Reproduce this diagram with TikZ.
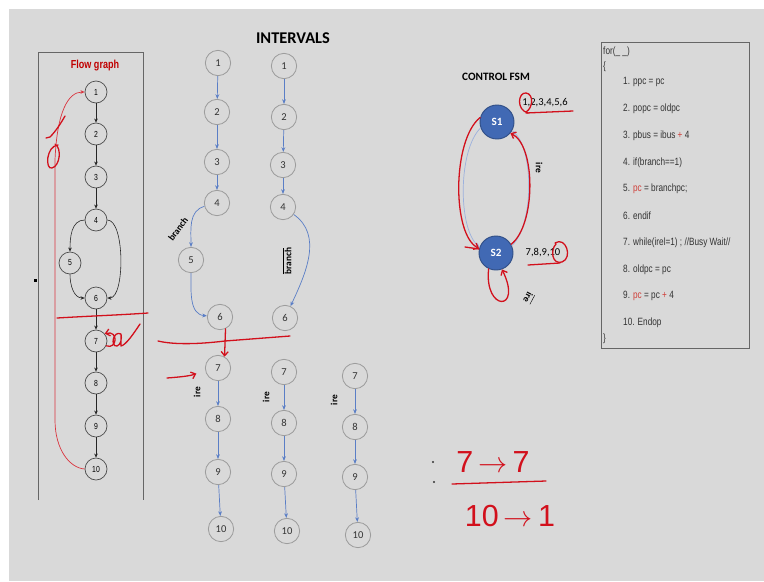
\documentclass[tikz,border=0pt]{standalone}
\usepackage{amsmath}
\usepackage{fontspec}
\setmainfont{Carlito}
\newfontfamily\narrowfont[FakeStretch=0.78]{Liberation Sans}
\newfontfamily\penfont{Liberation Sans}
\usetikzlibrary{arrows.meta}
\definecolor{slidegray}{HTML}{D9D9D9}
\definecolor{stateblue}{HTML}{4169B4}
\definecolor{edgeblue}{HTML}{5A7EC6}
\definecolor{ringgray}{HTML}{9C9C9C}
\definecolor{inkred}{HTML}{D2101C}
\definecolor{titlered}{HTML}{C00000}
\definecolor{codered}{HTML}{D0403A}

\begin{document}
\begin{tikzpicture}[x=0.03cm, y=-0.03cm,
    fnode/.style={circle, draw=black!70, line width=0.6pt, minimum size=0.66cm, inner sep=0pt, font=\narrowfont\fontsize{7.5}{8}\selectfont},
    inode/.style={circle, draw=ringgray, line width=0.7pt, minimum size=0.76cm, inner sep=0pt, text=black!80, font=\fontsize{9}{10}\selectfont},
    state/.style={circle, fill=stateblue, draw=stateblue!75!black, line width=0.8pt, minimum size=1.02cm, inner sep=0pt, text=white, font=\bfseries\fontsize{9.5}{10}\selectfont},
    farrow/.style={-{Stealth[length=3.5pt,width=3pt]}, black!85, line width=0.5pt},
    iarrow/.style={-{Stealth[length=4pt,width=3.2pt]}, edgeblue, line width=0.6pt},
    fsmedge/.style={-{Stealth[length=4pt,width=3.2pt]}, edgeblue!60, line width=0.6pt},
    pen/.style={inkred, line width=1.1pt, line cap=round, line join=round},
    penarrow/.style={pen, -{Straight Barb[length=3.5pt,width=6pt]}},
    boxline/.style={black!60, line width=0.7pt},
    heading/.style={font=\bfseries\fontsize{9.6}{11}\selectfont},
    vlabel/.style={font=\bfseries\fontsize{8}{9}\selectfont, inner sep=1pt},
    codeline/.style={anchor=west, inner sep=0pt, text=black!80, font=\narrowfont\fontsize{9}{10}\selectfont},
    handtext/.style={inkred, inner sep=0pt, font=\penfont\fontsize{26}{28}\selectfont}]
  \useasboundingbox (0,0) rectangle (764,581);
  \fill[white] (0,0) rectangle (764,581);
  \fill[slidegray] (9,9) rectangle (764,581);

  % Flow graph
  \draw[boxline] (38,500) |- (143,52) -- (143,500);
  \fill[black] (34,279) rectangle (37,282);
  \node[font=\narrowfont\bfseries\fontsize{9.9}{11}\selectfont, text=titlered] (flowtitle) at (95,66) {Flow graph};
  \node[fnode] (f1) at (96,92) {1};
  \node[fnode] (f2) at (96,134) {2};
  \node[fnode] (f3) at (96,177) {3};
  \node[fnode] (f4) at (96,220) {4};
  \node[fnode] (f5) at (70,263) {5};
  \node[fnode] (f6) at (96,298) {6};
  \node[fnode] (f7) at (96,341) {7};
  \node[fnode] (f8) at (96,383) {8};
  \node[fnode] (f9) at (96,426) {9};
  \node[fnode] (f10) at (96,469) {10};
  \draw[farrow] (f1) -- (f2);
  \draw[farrow] (f2) -- (f3);
  \draw[farrow] (f3) -- (f4);
  \draw[farrow] (f4.west) to[out=180,in=90] (f5.north);
  \draw[farrow] (f5.south) to[out=-90,in=180] (f6.west);
  \draw[farrow] (f4.east) .. controls (125,220) and (125,298) .. (f6.east);
  \draw[farrow] (f6) -- (f7);
  \draw[farrow] (f7) -- (f8);
  \draw[farrow] (f8) -- (f9);
  \draw[farrow] (f9) -- (f10);

  % Intervals
  \node[font=\bfseries\fontsize{14}{16}\selectfont] (intitle) at (293,38) {INTERVALS};
  \node[inode] (a1) at (218,63) {1};
  \node[inode] (a2) at (217,112) {2};
  \node[inode] (a3) at (217,162) {3};
  \node[inode] (a4) at (217,203) {4};
  \node[inode] (a5) at (191,260) {5};
  \node[inode] (a6) at (220,317) {6};
  \draw[iarrow] (a1) -- (a2);
  \draw[iarrow] (a2) -- (a3);
  \draw[iarrow] (a3) -- (a4);
  \draw[iarrow] (a4) to[out=195,in=90] (a5);
  \draw[iarrow] (a5) to[out=-90,in=175] (a6);
  \node[vlabel, rotate=54] (brlabel) at (178,229) {branch};

  \node[inode] (b1) at (284,66) {1};
  \node[inode] (b2) at (284,117) {2};
  \node[inode] (b3) at (283,165) {3};
  \node[inode] (b4) at (283,207) {4};
  \node[inode] (b6) at (285,318) {6};
  \draw[iarrow] (b1) -- (b2);
  \draw[iarrow] (b2) -- (b3);
  \draw[iarrow] (b3) -- (b4);
  \draw[iarrow] (b4) to[out=-35,in=65] (b6);
  \node[vlabel, rotate=90] (nbrlabel) at (287,261) {$\overline{\mbox{\bfseries branch}}$};

  \node[inode] (c7) at (218,368) {7};
  \node[inode] (c8) at (218,419) {8};
  \node[inode] (c9) at (218,472) {9};
  \node[inode] (c10) at (221,529) {10};
  \draw[iarrow] (c7) -- (c8);
  \draw[iarrow] (c8) -- (c9);
  \draw[iarrow] (c9) -- (c10);
  \node[vlabel, rotate=90] (ireA) at (197,392) {ire};

  \node[inode] (d7) at (284,372) {7};
  \node[inode] (d8) at (284,423) {8};
  \node[inode] (d9) at (284,474) {9};
  \node[inode] (d10) at (287,531) {10};
  \draw[iarrow] (d7) -- (d8);
  \draw[iarrow] (d8) -- (d9);
  \draw[iarrow] (d9) -- (d10);
  \node[vlabel, rotate=90] (ireB) at (266,397) {ire};

  \node[inode] (e7) at (355,376) {7};
  \node[inode] (e8) at (355,427) {8};
  \node[inode] (e9) at (355,477) {9};
  \node[inode] (e10) at (358,535) {10};
  \draw[iarrow] (e7) -- (e8);
  \draw[iarrow] (e8) -- (e9);
  \draw[iarrow] (e9) -- (e10);
  \node[vlabel, rotate=90] (ireC) at (334,400) {ire};

  % Control FSM
  \node[heading] (fsmtitle) at (496,77) {CONTROL FSM};
  \node[state] (s1) at (497,122) {S1};
  \node[state] (s2) at (496,253) {S2};
  \draw[fsmedge] (s1.200) .. controls (458,150) and (458,228) .. (s2.160);
  \draw[fsmedge] (s2.25) .. controls (534,225) and (534,150) .. (s1.-30);
  \node[vlabel, rotate=-90] (irefsm) at (539,168) {ire};
  \node[font=\fontsize{9}{10}\selectfont] (s1set) at (545,103) {1,2,3,4,5,6};
  \node[font=\fontsize{9}{10}\selectfont] (s2set) at (543,253) {7,8,9,10};
  \node[vlabel, rotate=-118] (nirefsm) at (529,298) {$\overline{\mbox{\bfseries ire}}$};

  % Code listing
  \draw[boxline] (601,42) rectangle (749,348);
  \node[codeline] (cfor) at (603,52) {for(\_ \_)};
  \node[codeline] (copen) at (603,67) {\{};
  \node[codeline] (c1) at (623,82) {1. ppc = pc};
  \node[codeline] (c2) at (623,108.8) {2. popc = oldpc};
  \node[codeline] (c3) at (623,135.6) {3. pbus = ibus {\color{codered}+} 4};
  \node[codeline] (c4) at (623,162.4) {4. if(branch==1)};
  \node[codeline] (c5) at (623,189.2) {5. {\color{codered}pc} = branchpc;};
  \node[codeline] (c6) at (623,216) {6. endif};
  \node[codeline] (c7l) at (623,242.8) {7. while(irel=1) ; //Busy Wait//};
  \node[codeline] (c8l) at (623,269.6) {8. oldpc = pc};
  \node[codeline] (c9l) at (623,296.4) {9. {\color{codered}pc} = pc {\color{codered}+} 4};
  \node[codeline] (c10l) at (623,323.2) {10. Endop};
  \node[codeline] (cclose) at (603,339) {\}};

  % Pen marks: flow graph
  \draw[inkred!85, line width=0.6pt, -{Stealth[length=3.5pt,width=3pt]}]
    (f10.west) .. controls (70,468) and (55,450) .. (55,420) -- (55,160)
    .. controls (57,112) and (68,92) .. (f1.west);
  \draw[pen] (46,138) -- (50,137) .. controls (56,131) and (61,123) .. (65,116);
  \draw[pen] (58,145) .. controls (46,146) and (45,170) .. (52,168)
    .. controls (60,166) and (62,148) .. (55,144);
  \draw[pen] (57,318) .. controls (90,316) and (120,315) .. (148,313);
  \draw[penarrow] (f7.-25) .. controls (117,350) and (119,330) .. (f7.40);
  \draw[pen] (121,334) .. controls (113,330) and (110,347) .. (117,346)
    .. controls (121,345) and (122,338) .. (121,334) -- (121,346)
    .. controls (126,345) and (134,333) .. (140,324);

  % Pen marks: intervals
  \draw[pen] (158,341) .. controls (175,345) and (200,344) .. (225,341) -- (290,336);
  \draw[penarrow] (a6.-65) -- (c7.60);
  \coordinate (irein) at (167,378);
  \draw[penarrow, shorten >=8pt] (irein) .. controls (180,377) and (190,376) .. (c7.190);

  % Pen marks: FSM
  \draw[penarrow] (s1.165) .. controls (452,140) and (452,235) .. (s2.165);
  \draw[pen] (465,247) -- (479,249);
  \draw[penarrow] (s2.30) .. controls (536,225) and (536,145) .. (s1.-40);
  \draw[penarrow] (s2.245) .. controls (484,312) and (523,312) .. (s2.-70);
  \draw[pen] (528,113) .. controls (516,110) and (518,92) .. (526,93)
    .. controls (534,94) and (533,108) .. (526,112);
  \draw[pen] (526,113) -- (573,111);
  \draw[pen] (555,243) .. controls (566,236) and (573,258) .. (562,262)
    .. controls (552,265) and (550,250) .. (556,244);
  \draw[pen] (528,265) -- (560,263);

  % Pen marks: back edge note
  \fill[black!80] (433,462) circle (1.1);
  \fill[black!80] (434,482) circle (1.1);
  \node[handtext] (fromto) at (493,462) {7\,$\rightarrow$\,7};
  \draw[pen] (452,484) -- (546,481);
  \node[handtext] (backto) at (510,516) {10\,$\rightarrow$\,1};
\end{tikzpicture}
\end{document}
